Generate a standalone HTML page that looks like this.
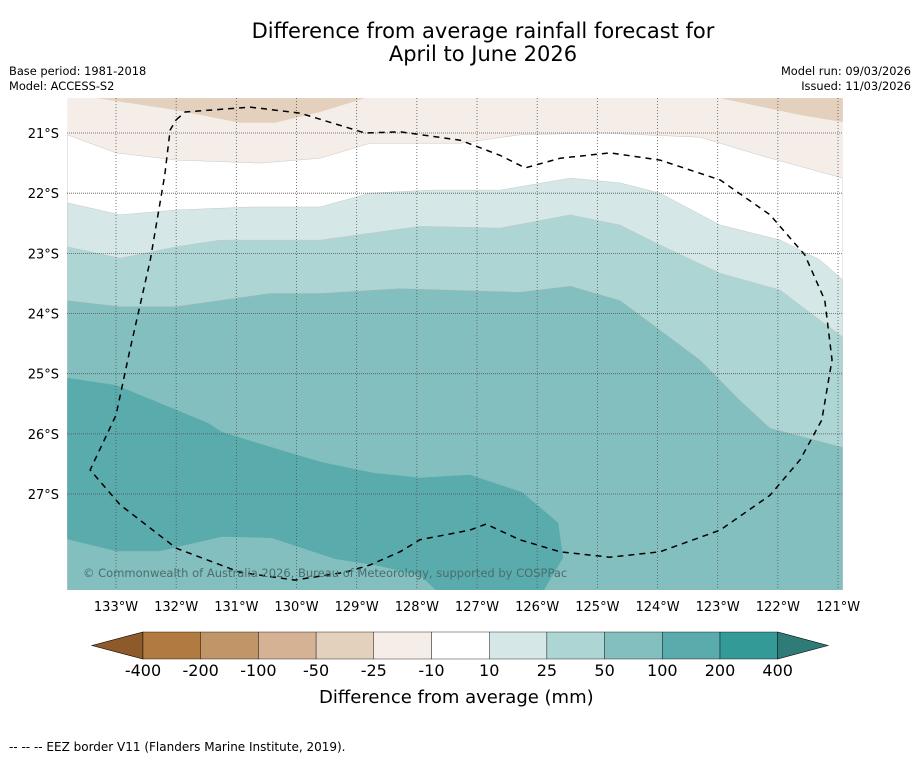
<!DOCTYPE html>
<html><head><meta charset="utf-8">
<style>
body{margin:0;background:#fff;font-family:"Liberation Sans","DejaVu Sans",sans-serif;}
svg text{font-family:"DejaVu Sans","Liberation Sans",sans-serif;}
</style></head>
<body>
<svg id="chart" width="919" height="758" viewBox="0 0 919 758" xmlns="http://www.w3.org/2000/svg">
<rect width="919" height="758" fill="#fff"/>
<text x="483" y="38" font-size="21" text-anchor="middle" fill="#000">Difference from average rainfall forecast for</text>
<text x="483" y="61" font-size="21" text-anchor="middle" fill="#000">April to June 2026</text>
<text x="9" y="75" font-size="11.4">Base period: 1981-2018</text>
<text x="9" y="90" font-size="11.4">Model: ACCESS-S2</text>
<text x="911" y="75" font-size="11.4" text-anchor="end">Model run: 09/03/2026</text>
<text x="911" y="90" font-size="11.4" text-anchor="end">Issued: 11/03/2026</text>
<defs><clipPath id="pc"><rect x="67" y="98" width="776" height="492"/></clipPath></defs>
<g id="plot" clip-path="url(#pc)"></g>
<g id="axes"></g>
<g id="cbar"></g>
<text x="319" y="703" font-size="18" fill="#000">Difference from average (mm)</text>
<text x="9" y="751" font-size="12" fill="#000">--  --  -- EEZ border V11 (Flanders Marine Institute, 2019).</text>
</svg>
<script>
// ---- data (lon in degrees E, negative = W; lat negative = S) ----
const lonTicks=[-133,-132,-131,-130,-129,-128,-127,-126,-125,-124,-123,-122,-121];
const latTicks=[-21,-22,-23,-24,-25,-26,-27];
const levelLabels=["-400","-200","-100","-50","-25","-10","10","25","50","100","200","400"];
const levelColors=["#b07a40","#c19568","#d4b293","#e3d0bd","#f5ede8","#ffffff","#d5e8e7","#acd5d4","#84bfbf","#5aabac","#339a97"];
// contour boundaries (lon array, lat array)
const brownTopLon=[-133.32,-132.00,-130.94,-130.36,-129.61,-128.86];
const brownTopLat=[-20.42,-20.62,-20.83,-20.83,-20.65,-20.42];
const brownRightLon=[-122.96,-121.63,-120.92];
const brownRightLat=[-20.42,-20.70,-20.82];
const m10Lon=[-133.81,-133.00,-132.00,-130.61,-129.61,-128.78,-127.28,-126.29,-124.96,-123.29,-122.30,-120.92];
const m10Lat=[-21.03,-21.33,-21.45,-21.50,-21.42,-21.17,-21.17,-21.03,-21.00,-21.07,-21.37,-21.75];
const p10Lon=[-133.81,-132.93,-132.00,-130.77,-129.61,-128.78,-127.78,-126.62,-125.45,-124.62,-123.96,-122.96,-121.96,-121.30,-120.92];
const p10Lat=[-22.16,-22.36,-22.28,-22.23,-22.23,-22.00,-21.95,-21.95,-21.75,-21.83,-22.00,-22.53,-22.78,-23.11,-23.44];
const p25Lon=[-133.81,-132.93,-132.00,-131.27,-129.61,-127.95,-126.62,-125.45,-124.62,-123.96,-122.96,-121.96,-121.30,-120.92];
const p25Lat=[-22.89,-23.08,-22.89,-22.78,-22.78,-22.55,-22.58,-22.36,-22.53,-22.86,-23.33,-23.61,-24.11,-24.39];
const p50Lon=[-133.81,-132.93,-132.00,-130.44,-129.61,-128.28,-126.29,-125.45,-124.62,-123.96,-123.29,-122.63,-122.13,-120.92];
const p50Lat=[-23.78,-23.88,-23.88,-23.66,-23.66,-23.58,-23.64,-23.54,-23.78,-24.27,-24.77,-25.44,-25.90,-26.22];
const p100Lon=[-133.81,-133.00,-132.73,-132.00,-131.47,-131.24,-130.16,-129.58,-128.71,-127.95,-127.12,-126.25,-125.65,-125.57,-125.89];
const p100Lat=[-25.07,-25.19,-25.30,-25.60,-25.82,-25.97,-26.30,-26.47,-26.65,-26.73,-26.68,-26.97,-27.48,-28.06,-28.60];
const p100BotLon=[-127.68,-127.95,-128.71,-129.36,-130.41,-131.24,-132.27,-133.00,-133.81];
const p100BotLat=[-28.60,-28.35,-28.18,-28.08,-27.73,-27.71,-27.95,-27.95,-27.75];
const eezLon=[-132.00,-131.85,-130.77,-129.94,-128.86,-128.28,-127.28,-126.62,-126.20,-125.62,-124.79,-123.96,-122.96,-122.13,-121.55,-121.22,-121.10,-121.27,-121.63,-122.13,-122.96,-123.96,-124.79,-125.62,-126.29,-126.85,-127.12,-127.95,-128.28,-128.78,-129.19,-130.03,-130.94,-132.00,-132.93,-133.43,-133.00,-132.77,-132.43,-132.19,-132.10,-132.00];
const eezLat=[-20.78,-20.65,-20.57,-20.67,-21.00,-20.98,-21.12,-21.37,-21.58,-21.42,-21.33,-21.45,-21.78,-22.36,-23.03,-23.78,-24.77,-25.77,-26.43,-27.02,-27.60,-27.96,-28.05,-27.96,-27.76,-27.50,-27.60,-27.76,-27.96,-28.18,-28.30,-28.43,-28.30,-27.90,-27.18,-26.60,-25.69,-24.61,-23.11,-21.70,-20.95,-20.78];
// ---- axis functions ----
const x0=116, pxPerDeg=60.17, y0=133;
const xs=lon=>x0+(lon+133)*pxPerDeg;
const ys=lat=>y0+(-21-lat)*pxPerDeg;
const NS="http://www.w3.org/2000/svg";
const plot=document.getElementById('plot'), axes=document.getElementById('axes'), cbar=document.getElementById('cbar');
function mk(tag,attrs,parent){const e=document.createElementNS(NS,tag);for(const k in attrs)e.setAttribute(k,attrs[k]);parent.appendChild(e);return e;}
const L=-133.81, R=-120.92, T=-20.42, B=-28.60;
function below(lons,lats){let d='M'+xs(lons[0])+','+ys(lats[0]);for(let i=1;i<lons.length;i++)d+='L'+xs(lons[i])+','+ys(lats[i]);d+='L'+xs(R)+','+ys(B)+'L'+xs(L)+','+ys(B)+'Z';return d;}
function line(lons,lats){let d='M'+xs(lons[0])+','+ys(lats[0]);for(let i=1;i<lons.length;i++)d+='L'+xs(lons[i])+','+ys(lats[i]);return d;}
let r=mk('rect',{x:xs(L),y:ys(T),width:xs(R)-xs(L),height:ys(B)-ys(T),fill:levelColors[4]},plot);


const bands=[[m10Lon,m10Lat,5,'band-minus10-10'],[p10Lon,p10Lat,6,'band-10-25'],[p25Lon,p25Lat,7,'band-25-50'],[p50Lon,p50Lat,8,'band-50-100']];
bands.forEach(b=>{const p=mk('path',{d:below(b[0],b[1]),fill:levelColors[b[2]],stroke:'#c8c8c8','stroke-width':0.5},plot);

});
let d100=line(p100Lon,p100Lat);for(let i=0;i<p100BotLon.length;i++)d100+='L'+xs(p100BotLon[i])+','+ys(p100BotLat[i]);d100+='Z';
let p1=mk('path',{d:d100,fill:levelColors[9]},plot);


let dbt=line(brownTopLon,brownTopLat)+'Z';
let p2=mk('path',{d:dbt,fill:levelColors[3]},plot);


let dbr=line(brownRightLon,brownRightLat)+'L'+xs(R)+','+ys(T)+'Z';
let p3=mk('path',{d:dbr,fill:levelColors[3]},plot);


// grid
lonTicks.forEach(v=>{const g=mk('line',{x1:xs(v),x2:xs(v),y1:98,y2:590,stroke:'#555','stroke-width':0.8,'stroke-dasharray':'1,2'},plot);

});
latTicks.forEach(v=>{const g=mk('line',{x1:67,x2:843,y1:ys(v),y2:ys(v),stroke:'#555','stroke-width':0.8,'stroke-dasharray':'1,1'},plot);

});
// EEZ
let e=mk('path',{d:line(eezLon,eezLat),fill:'none',stroke:'#000','stroke-width':1.5,'stroke-dasharray':'6,5'},plot);


let c=mk('text',{x:83,y:577,'font-size':11.5,fill:'#4a6e6e'},plot);c.textContent='© Commonwealth of Australia 2026, Bureau of Meteorology, supported by COSPPac';


// tick labels
lonTicks.forEach(v=>{const t=mk('text',{x:xs(v),y:611,'font-size':13,'text-anchor':'middle'},axes);t.textContent=Math.abs(v)+'°W';

});
latTicks.forEach(v=>{const t=mk('text',{x:59,y:ys(v)+5,'font-size':13,'text-anchor':'end'},axes);t.textContent=Math.abs(v)+'°S';

});
// colorbar
const cbx=143, cbw=57.7, cby=632, cbh=27;
let lt=mk('polygon',{points:`${cbx},${cby} ${cbx},${cby+cbh} 92,${cby+cbh/2}`,fill:'#8f5a2a',stroke:'#000','stroke-width':0.6},cbar);


levelColors.forEach((col,i)=>{const b=mk('rect',{x:cbx+i*cbw,y:cby,width:cbw,height:cbh,fill:col,stroke:'#000','stroke-width':0.4},cbar);

});
const xe=cbx+levelColors.length*cbw;
let rt=mk('polygon',{points:`${xe},${cby} ${xe},${cby+cbh} 828,${cby+cbh/2}`,fill:'#2e7b78',stroke:'#000','stroke-width':0.6},cbar);


levelLabels.forEach((s,i)=>{const t=mk('text',{x:cbx+i*cbw,y:676,'font-size':16,'text-anchor':'middle'},cbar);t.textContent=s;

});
</script>
</body></html>
